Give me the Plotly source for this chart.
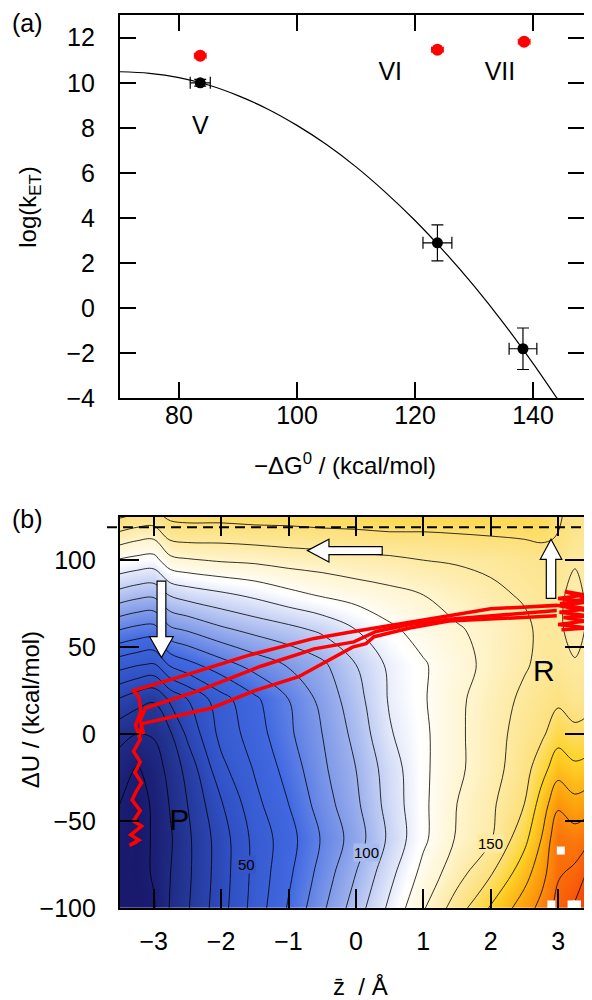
import plotly.graph_objects as go

FONT = "Liberation Sans, Arial, Helvetica, sans-serif"

# ---------------- panel (a) data ----------------
dg_exp = [83.6, 123.8, 138.3]
logk_exp = [10.0, 2.9, -1.8]
dg_exp_err = [1.7, 2.45, 2.35]
logk_exp_err = [0.15, 0.8, 0.92]

dg_sim = [83.6, 123.8, 138.5]
logk_sim = [11.2, 11.47, 11.82]
dg_sim_err = [1.0, 1.0, 1.0]
logk_sim_err = [0.1, 0.1, 0.1]

fit_dg = [70, 75, 80, 85, 90, 95, 100, 105, 110, 115, 120, 125, 130, 135, 140, 145]
fit_logk = [10.49, 10.42, 10.23, 9.90, 9.43, 8.84, 8.11, 7.26, 6.27, 5.14, 3.89, 2.50, 0.99, -0.66, -2.45, -4.36]

system_names = ["V", "VI", "VII"]
name_dg = [83.6, 115.8, 134.4]
name_logk = [8.0, 10.4, 10.4]

# ---------------- panel (b) data ----------------
zbar = [-3.5, -3.25, -3.0, -2.75, -2.5, -2.0, -1.5, -1.0, -0.5, 0.0, 0.5, 1.0, 1.5, 2.0, 2.5, 2.75, 3.0, 3.25, 3.5]
dU = [-100, -80, -60, -40, -20, 0, 20, 40, 60, 80, 100, 112, 125]
free_energy = [
    [-3, -3, -1, 11, 19, 36, 54, 71, 88, 105, 122, 139, 155, 171, 185, 193, 203, 212, 222],
    [-3, -4, 1, 10, 18, 35, 53, 68, 84, 100, 117, 133, 146, 159, 176, 186, 199, 202, 214],
    [-2, -4, 1, 9, 18, 35, 53, 66, 81, 95, 112, 128, 141, 149, 167, 180, 198, 195, 200],
    [0, -3, 1, 11, 20, 39, 57, 70, 85, 98, 114, 128, 140, 148, 160, 174, 188, 183, 187],
    [5, -1, 4, 14, 23, 47, 61, 74, 88, 100, 115, 128, 138, 146, 156, 166, 176, 172, 174],
    [13, 10, 11, 19, 32, 53, 65, 78, 90, 103, 119, 128, 138, 146, 154, 158, 166, 163, 165],
    [29, 24, 21, 32, 40, 56, 68, 80, 93, 106, 121, 129, 138, 145, 152, 155, 158, 154, 157],
    [54, 51, 49, 62, 67, 76, 84, 91, 98, 110, 122, 129, 136, 143, 149, 152, 153, 151, 153],
    [80, 77, 76, 88, 91, 98, 103, 107, 112, 120, 128, 134, 139, 143, 148, 152, 152, 146, 153],
    [106, 103, 102, 111, 114, 118, 122, 127, 131, 134, 137, 140, 144, 148, 151, 153, 152, 147, 153],
    [129, 127, 126, 137, 139, 141, 142, 144, 145, 147, 148, 150, 151, 152, 154, 155, 154, 151, 152],
    [144, 141, 140, 151, 152, 152, 153, 154, 155, 156, 157, 157, 158, 159, 160, 161, 159.5, 154, 154],
    [161, 158, 157, 162, 163, 163, 164, 164, 165, 165, 166, 166, 166, 166, 166, 165, 161, 157, 156],
]

traj_z = [
    3.05, 3.45, 3.0, 3.42, 3.08, 3.47, 3.02, 3.44, 3.06, 3.46, 3.0, 3.4, 3.1, 3.45, 3.03, 3.42, 2.98,
    2.5, 2.0, 1.38, 0.8, 0.3, -0.03, -0.62, -1.62, -2.6, -3.3, -3.22, -3.19, -3.27, -3.2, -3.3, -3.2,
    -3.28, -3.18, -3.26, -3.32, -3.2, -3.3, -3.18, -3.34, -3.22, -3.36, -3.25, None,
    2.98, 2.0, 1.38, 0.8, 0.3, -0.03, -0.62, -0.77, -1.41, -2.33, -3.12, -3.2, -3.15, None,
    2.98, 2.0, 1.38, 0.8, 0.35, 0.27, 0.15, -0.05, -0.85, -1.5, -2.14, -3.17, -3.22,
]
traj_U = [
    60, 61, 63, 65, 67, 68, 70, 72, 74, 76, 78, 80, 82, 78, 75, 71, 74,
    73, 72, 68, 64.5, 61, 59, 55, 45, 33, 25, 21, 13, 5, -3, -10, -16,
    -22, -28, -33, -38, -44, -50, -53, -58, -61, -64, -62, None,
    71, 68, 66, 63, 59, 53, 49, 47, 39, 25, 15, 8, 0, None,
    68, 66, 65, 61, 57, 56, 52, 50, 33, 25, 15, 6, -2,
]

white_z = [3.04, 2.9, 3.2, 3.28]
white_U = [-67, -98, -98, -98]

contour_label_text = ["50", "100", "150"]
contour_label_z = [-1.62, 0.15, 2.0]
contour_label_U = [-75, -68, -63]
contour_label_bg = ["#3454c7", "#a8bbef", "#fde9a0"]

basin_names = ["P", "R"]
basin_z = [-2.62, 2.79]
basin_U = [-51, 35]

# ---------------- figure ----------------
OFF = 8          # page body margin
KY = 0.983       # observed vertical squeeze of the photographed page
W, H = 576, 1004

def px(x):
    return (x - OFF) / W

def py(y):
    return 1 - (y / KY - OFF) / H

fig = go.Figure()

fig.add_trace(go.Scatter(x=fit_dg, y=fit_logk, mode="lines", line=dict(color="black", width=1.2, shape="spline"),
                         showlegend=False, xaxis="x", yaxis="y", hoverinfo="skip"))
fig.add_trace(go.Scatter(x=dg_exp, y=logk_exp, mode="markers", marker=dict(color="black", size=11),
                         error_x=dict(type="data", array=dg_exp_err, color="black", thickness=1.2, width=6),
                         error_y=dict(type="data", array=logk_exp_err, color="black", thickness=1.2, width=6),
                         showlegend=False, xaxis="x", yaxis="y"))
fig.add_trace(go.Scatter(x=dg_sim, y=logk_sim, mode="markers", marker=dict(color="#ff0000", size=12),
                         error_x=dict(type="data", array=dg_sim_err, color="#ff0000", thickness=1, width=3),
                         error_y=dict(type="data", array=logk_sim_err, color="#ff0000", thickness=1, width=3),
                         showlegend=False, xaxis="x", yaxis="y"))
fig.add_trace(go.Scatter(x=name_dg, y=name_logk, mode="text", text=system_names,
                         textfont=dict(size=25, color="black", family=FONT),
                         showlegend=False, xaxis="x", yaxis="y", hoverinfo="skip"))

zmin, zmax = -5, 222
def pos(v):
    return (v - zmin) / (zmax - zmin)
cs_stops = [(-5, "#18176a"), (15, "#22328f"), (40, "#3050c4"), (70, "#4169e1"), (98, "#98adec"),
            (127, "#ffffff"), (141, "#fff4cc"), (150, "#fdeaa3"), (160, "#fde07a"), (170, "#fdd42a"),
            (184, "#fca40d"), (199, "#fa6e0a"), (222, "#f2360b")]
cs = [[pos(v), c] for v, c in cs_stops]

fig.add_trace(go.Contour(x=zbar, y=dU, z=free_energy, colorscale=cs, zauto=False, zmin=zmin, zmax=zmax,
                         autocontour=False,
                         contours=dict(start=0, end=220, size=10, coloring="heatmap", showlines=True),
                         line=dict(color="black", width=0.8, smoothing=1.0),
                         showscale=False, xaxis="x2", yaxis="y2", hoverinfo="skip"))
fig.add_trace(go.Scatter(x=traj_z, y=traj_U, mode="lines", line=dict(color="#ff0000", width=3.5),
                         connectgaps=False, showlegend=False, xaxis="x2", yaxis="y2", hoverinfo="skip"))
fig.add_trace(go.Scatter(x=white_z, y=white_U, mode="markers", marker=dict(color="white", size=8, symbol="square"),
                         showlegend=False, xaxis="x2", yaxis="y2", hoverinfo="skip", cliponaxis=False))
fig.add_trace(go.Scatter(x=basin_z, y=basin_U, mode="text", text=basin_names,
                         textfont=dict(size=30, color="black", family=FONT),
                         showlegend=False, xaxis="x2", yaxis="y2", hoverinfo="skip"))

tick_font = dict(size=25, color="black", family=FONT)
xaxis_common = dict(showline=True, linecolor="black", linewidth=2.2, mirror="ticks", ticks="inside",
                    tickcolor="black", tickwidth=2, showgrid=False, zeroline=False, tickfont=tick_font)
yaxis_common = dict(showline=True, linecolor="black", linewidth=2.2, mirror=False, ticks="inside",
                    tickcolor="black", tickwidth=2, showgrid=False, zeroline=False, tickfont=tick_font)
right_ticks = dict(showline=False, ticks="inside", tickcolor="black", tickwidth=2, showgrid=False,
                   zeroline=False, showticklabels=False, side="right")

xdom = [px(120), 1.0]
dom_a = [py(397), py(15)]
dom_b = [py(905), py(515)]
xr_a = [70, 70 + (584 - 120) / 5.9]
xr_b = [-3.5, -3.5 + (584 - 120) / 67.4]

fig.update_layout(
    width=W, height=H, margin=dict(l=0, r=0, t=0, b=0),
    paper_bgcolor="white", plot_bgcolor="white", font=dict(family=FONT, color="black"),
    showlegend=False,
    xaxis=dict(xaxis_common, domain=xdom, range=xr_a, tickvals=[80, 100, 120, 140], ticklen=16,
               ticklabelstandoff=-6, anchor="y"),
    yaxis=dict(yaxis_common, domain=dom_a, range=[-4, 13],
               tickvals=[-4, -2, 0, 2, 4, 6, 8, 10, 12], ticklen=16, ticklabelstandoff=18, anchor="x"),
    yaxis3=dict(right_ticks, domain=dom_a, range=[-4, 13], tickvals=[-4, -2, 0, 2, 4, 6, 8, 10, 12],
                ticklen=16, overlaying="y", anchor="x"),
    xaxis2=dict(xaxis_common, domain=xdom, range=xr_b, tickvals=[-3, -2, -1, 0, 1, 2, 3], ticklen=19,
                ticklabelstandoff=10, anchor="y2"),
    yaxis2=dict(yaxis_common, domain=dom_b, range=[-100, 125],
                tickvals=[-100, -50, 0, 50, 100], ticklen=19, ticklabelstandoff=17, anchor="x2"),
    yaxis4=dict(right_ticks, domain=dom_b, range=[-100, 125], tickvals=[-100, -50, 0, 50, 100],
                ticklen=19, overlaying="y2", anchor="x2"),
)
fig.add_trace(go.Scatter(x=[None], y=[None], xaxis="x", yaxis="y3", showlegend=False, hoverinfo="skip"))
fig.add_trace(go.Scatter(x=[None], y=[None], xaxis="x2", yaxis="y4", showlegend=False, hoverinfo="skip"))

def pann(text, x, y, size, angle=0, xanchor="center"):
    return dict(text=text, x=px(x), y=py(y), xref="paper", yref="paper", showarrow=False,
                xanchor=xanchor, yanchor="middle", textangle=angle, font=dict(size=size))

ann = [
    pann("(a)", 10, 23, 25, xanchor="left"),
    pann("(b)", 10, 517, 25, xanchor="left"),
    pann("log(k<sub>ET</sub>)", 30, 207, 24, -90),
    pann("\u2212\u0394G<sup>0</sup> / (kcal/mol)", 345, 462, 24),
    pann("\u0394U / (kcal/mol)", 30, 708, 24, -90),
    pann("z\u0304  / \u00c5", 360, 983, 24),
]
for t, zz, uu, bg in zip(contour_label_text, contour_label_z, contour_label_U, contour_label_bg):
    ann.append(dict(text=t, x=zz, y=uu, xref="x2", yref="y2", showarrow=False, bgcolor=bg,
                    xanchor="center", yanchor="middle", borderpad=0, font=dict(size=15, color="black")))
fig.update_layout(annotations=ann)

arrow_style = dict(type="path", xref="x2", yref="y2", fillcolor="white", line=dict(color="black", width=1.2),
                   layer="above")
shapes = [
    dict(type="line", xref="paper", yref="y2", x0=px(107), x1=1.0, y0=119, y1=119,
         line=dict(color="black", width=2, dash="10px,6px"), layer="above"),
    dict(arrow_style, path="M -2.95,88 L -2.82,88 L -2.82,56 L -2.71,56 L -2.885,44 L -3.06,56 L -2.95,56 Z"),
    dict(arrow_style, path="M 0.39,107.8 L -0.40,107.8 L -0.40,112 L -0.72,105.5 L -0.40,99 L -0.40,103.2 L 0.39,103.2 Z"),
    dict(arrow_style, path="M 2.825,78 L 2.965,78 L 2.965,100.5 L 3.055,100.5 L 2.895,112 L 2.735,100.5 L 2.825,100.5 Z"),
]
fig.update_layout(shapes=shapes)

fig.write_html("out.html", config={"displayModeBar": False})
